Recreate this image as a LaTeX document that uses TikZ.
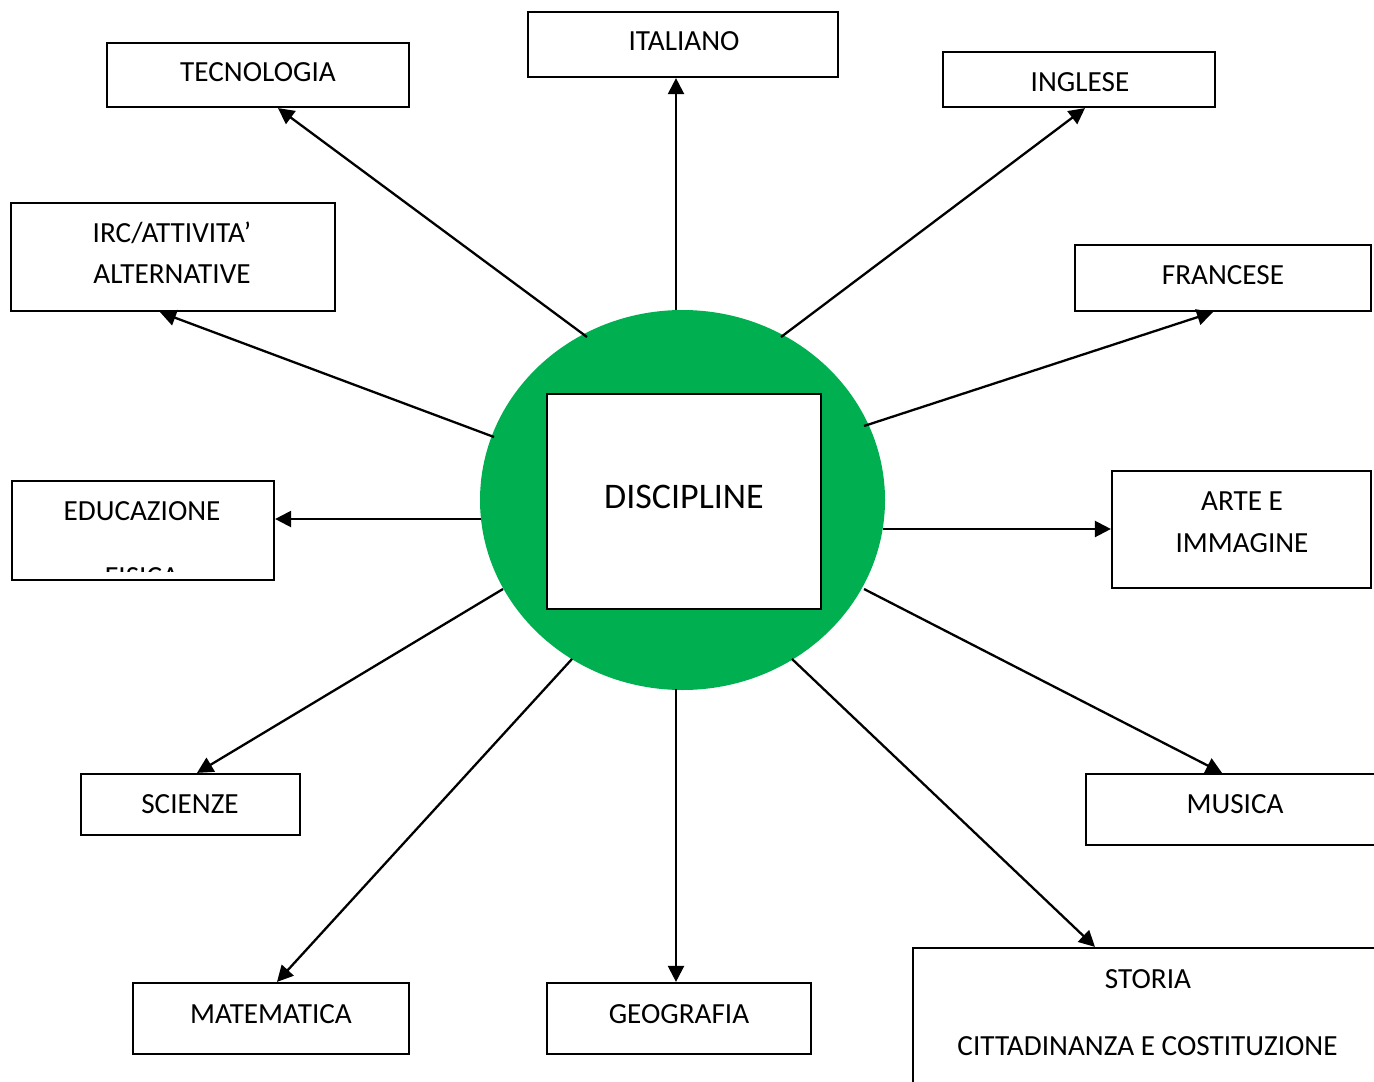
\documentclass[tikz,border=0pt]{standalone}
\usepackage{fontspec}
\setmainfont{Carlito}
\usetikzlibrary{shapes.geometric,arrows.meta,calc}
\definecolor{discgreen}{HTML}{00B050}
\tikzset{
  box/.style={draw=black, line width=1.1pt, fill=white, inner sep=0pt, rectangle},
  lbl/.style={anchor=base, inner sep=0pt, font=\fontsize{14.6pt}{17pt}\selectfont},
  conn/.style={draw=black, line width=1.15pt, -{Triangle[length=8pt,width=8pt]}},
}
\newcommand{\mybox}[6]{\node[box, minimum width={#4*0.5pt}, minimum height={#5*0.5pt}] (#1) at (#2,#3) {#6};}
\begin{document}
\begin{tikzpicture}[x=0.5pt,y=-0.5pt]
\useasboundingbox (0,0) rectangle (1374,1081);
% central ellipse and box
\node[ellipse, fill=discgreen, inner sep=0pt, minimum width=202.5pt, minimum height=190pt] (circ) at (682.5,500) {};
\mybox{disc}{684}{501.5}{274}{215}{}
\node[lbl, font=\fontsize{18pt}{21pt}\selectfont] (disct) at (684,508) {DISCIPLINE};
% boxes
\mybox{tec}{258}{75}{302}{64}{}
\mybox{ita}{683}{44.5}{310}{65}{}
\mybox{ing}{1079}{79.5}{272}{55}{}
\mybox{irc}{173}{257}{324}{108}{}
\mybox{fra}{1223}{278}{296}{66}{}
\mybox{edu}{143}{530.5}{262}{99}{}
\mybox{arte}{1241.5}{529.5}{259}{117}{}
\mybox{sci}{190.5}{804.5}{219}{61}{}
\mybox{mus}{1238}{809.5}{304}{71}{}
\mybox{mat}{271}{1018.5}{276}{71}{}
\mybox{geo}{679}{1018.5}{264}{71}{}
\mybox{sto}{1151.5}{1024}{477}{152}{}
% labels
\node[lbl] (tect) at (258,82) {TECNOLOGIA};
\node[lbl] (itat) at (684,51) {ITALIANO};
\node[lbl] (ingt) at (1080,91) {INGLESE};
\node[lbl] (irct1) at (172,242) {IRC/ATTIVITA’};
\node[lbl] (irct2) at (172,283) {ALTERNATIVE};
\node[lbl] (frat) at (1223,284) {FRANCESE};
\node[lbl] (edut) at (142,520) {EDUCAZIONE};
\begin{scope}
\clip (12,481) rectangle (274,571);
\node[lbl] (edut2) at (142,586) {FISICA};
\end{scope}
\node[lbl] (artet1) at (1242,510) {ARTE E};
\node[lbl] (artet2) at (1242,552) {IMMAGINE};
\node[lbl] (scit) at (190,813) {SCIENZE};
\node[lbl] (must) at (1235,813) {MUSICA};
\node[lbl] (matt) at (271,1023) {MATEMATICA};
\node[lbl] (geot) at (679,1023) {GEOGRAFIA};
\node[lbl] (stot1) at (1148,988) {STORIA};
\node[lbl] (stot2) at (1147.5,1055) {CITTADINANZA E COSTITUZIONE};
% connector starts on the ellipse border
\coordinate (sTec) at (587,337);
\coordinate (sIta) at (676,310);
\coordinate (sIng) at (781,337);
\coordinate (sIrc) at (494,437);
\coordinate (sFra) at (864,426);
\coordinate (sEdu) at (481,519);
\coordinate (sArte) at (883,529);
\coordinate (sSci) at (503,589);
\coordinate (sMus) at (864,589);
\coordinate (sMat) at (572,659);
\coordinate (sSto) at (792,659);
\coordinate (sGeo) at (676,689);
% connectors
\draw[conn] (sTec) -- ($(tec.south)+(20,0)$);
\draw[conn] (sIta) -- ($(ita.south)+(-7,0)$);
\draw[conn] (sIng) -- ($(ing.south)+(6,0)$);
\draw[conn] (sIrc) -- ($(irc.south)+(-13,0)$);
\draw[conn] (sFra) -- ($(fra.south)+(-10,0)$);
\draw[conn] (sEdu) -- ($(edu.east)+(0,-11.5)$);
\draw[conn] (sArte) -- ($(arte.west)+(0,-0.5)$);
\draw[conn] (sSci) -- ($(sci.north)+(6.5,0)$);
\draw[conn] (sMus) -- ($(mus.north)+(-16,0)$);
\draw[conn] (sMat) -- ($(mat.north)+(6,0)$);
\draw[conn] (sGeo) -- ($(geo.north)+(-3,0)$);
\draw[conn] (sSto) -- ($(sto.north)+(-56.5,0)$);
\end{tikzpicture}
\end{document}
